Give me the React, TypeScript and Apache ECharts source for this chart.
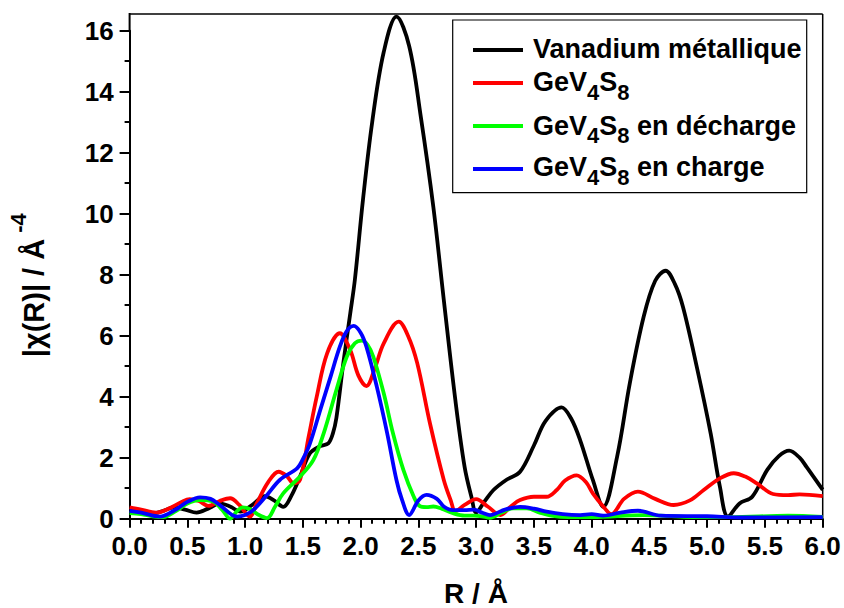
import React, { useEffect, useRef } from "react";
import * as echarts from "echarts";

const FONT = '"Liberation Sans", Arial, Helvetica, sans-serif';

const seriesNames = ["Vanadium métallique", "GeV4S8", "GeV4S8 en décharge", "GeV4S8 en charge"];
const seriesColors = ["#000000", "#ff0000", "#00ff00", "#0000ff"];

// [R (Å), |χ(R)| (Å^-4)]
const vanadium: number[][] = [
  [0, 0.31], [0.1, 0.25], [0.22, 0.18], [0.3, 0.27], [0.38, 0.37], [0.48, 0.3], [0.58, 0.2],
  [0.68, 0.33], [0.78, 0.5], [0.87, 0.4], [0.96, 0.23], [1.06, 0.45], [1.17, 0.74], [1.25, 0.6],
  [1.33, 0.39], [1.4, 0.75], [1.475, 1.38], [1.56, 2.14], [1.65, 2.38], [1.72, 2.47], [1.76, 2.8],
  [1.79, 3.3], [1.85, 5.1], [1.91, 6.73], [1.95, 7.83], [2.02, 10.45], [2.1, 13.0], [2.2, 15.3],
  [2.31, 16.46], [2.42, 15.5], [2.52, 13.2], [2.63, 10.2], [2.72, 7.17], [2.82, 3.89], [2.9, 1.7],
  [2.96, 0.7], [3.0, 0.2], [3.07, 0.55], [3.15, 0.94], [3.26, 1.27], [3.38, 1.54], [3.5, 2.4],
  [3.6, 3.2], [3.74, 3.65], [3.82, 3.3], [3.9, 2.58], [4.01, 1.27], [4.1, 0.39], [4.22, 2.03],
  [4.33, 4.44], [4.45, 6.62], [4.55, 7.8], [4.64, 8.13], [4.72, 7.7], [4.79, 6.95], [4.91, 4.98],
  [5.03, 2.8], [5.11, 1.05], [5.18, 0.07], [5.28, 0.5], [5.39, 0.72], [5.52, 1.6], [5.62, 2.05],
  [5.71, 2.23], [5.8, 2.0], [5.86, 1.7], [5.99, 1.0], [6.0, 0.95],
];

const gev4s8: number[][] = [
  [0, 0.37], [0.1, 0.3], [0.23, 0.2], [0.35, 0.35], [0.45, 0.55], [0.52, 0.64], [0.6, 0.58],
  [0.68, 0.42], [0.78, 0.58], [0.87, 0.67], [0.95, 0.45], [1.04, 0.07], [1.1, 0.5], [1.2, 1.2],
  [1.29, 1.54], [1.36, 1.4], [1.42, 1.16], [1.475, 1.27], [1.55, 2.69], [1.62, 4.0], [1.71, 5.42],
  [1.82, 6.08], [1.91, 5.53], [1.98, 4.7], [2.05, 4.35], [2.12, 4.9], [2.2, 5.75], [2.33, 6.46],
  [2.41, 6.0], [2.49, 5.1], [2.6, 3.13], [2.72, 1.27], [2.78, 0.6], [2.82, 0.25], [2.9, 0.45],
  [3.0, 0.64], [3.1, 0.4], [3.21, 0.12], [3.3, 0.4], [3.38, 0.61], [3.5, 0.72], [3.61, 0.72],
  [3.7, 0.95], [3.77, 1.25], [3.87, 1.42], [3.95, 1.2], [4.01, 0.83], [4.1, 0.4], [4.17, 0.15],
  [4.28, 0.65], [4.4, 0.89], [4.55, 0.65], [4.71, 0.45], [4.85, 0.6], [4.97, 0.94], [5.1, 1.3],
  [5.23, 1.49], [5.33, 1.38], [5.43, 1.16], [5.57, 0.81], [5.7, 0.77], [5.8, 0.8], [6.0, 0.74],
];

const decharge: number[][] = [
  [0, 0.18], [0.1, 0.15], [0.2, 0.08], [0.29, 0.05], [0.4, 0.25], [0.5, 0.5], [0.61, 0.61],
  [0.72, 0.57], [0.8, 0.3], [0.87, 0.0], [0.93, 0.25], [0.98, 0.37], [1.05, 0.3], [1.12, 0.12],
  [1.19, 0.02], [1.26, 0.4], [1.33, 0.83], [1.475, 1.38], [1.59, 1.92], [1.68, 2.8], [1.79, 4.22],
  [1.88, 5.31], [1.95, 5.75], [2.01, 5.84], [2.06, 5.7], [2.11, 5.31], [2.2, 4.11], [2.28, 2.8],
  [2.37, 1.6], [2.46, 0.72], [2.51, 0.42], [2.57, 0.38], [2.63, 0.4], [2.7, 0.33], [2.8, 0.18],
  [2.9, 0.1], [2.98, 0.1], [3.05, 0.08], [3.12, 0.03], [3.22, 0.2], [3.32, 0.34], [3.44, 0.34],
  [3.55, 0.2], [3.65, 0.1], [3.8, 0.05], [4.0, 0.05], [4.45, 0.12], [4.8, 0.06], [5.2, 0.05],
  [5.7, 0.1], [6.0, 0.06],
];

const charge: number[][] = [
  [0, 0.26], [0.1, 0.2], [0.26, 0.07], [0.4, 0.3], [0.5, 0.55], [0.61, 0.7], [0.7, 0.65],
  [0.78, 0.45], [0.93, 0.07], [1.0, 0.12], [1.07, 0.28], [1.19, 0.78], [1.3, 1.27], [1.45, 1.65],
  [1.5, 1.95], [1.56, 2.45], [1.65, 3.56], [1.74, 4.66], [1.82, 5.64], [1.88, 6.15], [1.94, 6.32],
  [2.0, 6.1], [2.05, 5.64], [2.14, 4.33], [2.23, 2.8], [2.31, 1.27], [2.36, 0.6], [2.42, 0.12],
  [2.5, 0.6], [2.57, 0.78], [2.66, 0.65], [2.72, 0.4], [2.8, 0.28], [2.9, 0.28], [2.98, 0.3],
  [3.05, 0.2], [3.12, 0.12], [3.25, 0.3], [3.38, 0.39], [3.5, 0.33], [3.61, 0.23], [3.75, 0.15],
  [3.9, 0.12], [4.0, 0.15], [4.1, 0.1], [4.25, 0.2], [4.4, 0.26], [4.6, 0.1], [5.0, 0.08],
  [5.3, 0.04], [6.0, 0.05],
];

const seriesData = [vanadium, gev4s8, decharge, charge];
const drawOrder = [3, 2, 1, 0];

// legend rows: pieces [text, isSubscript]
const legendRows: [string, boolean][][] = [
  [["Vanadium métallique", false]],
  [["GeV", false], ["4", true], ["S", false], ["8", true]],
  [["GeV", false], ["4", true], ["S", false], ["8", true], [" en décharge", false]],
  [["GeV", false], ["4", true], ["S", false], ["8", true], [" en charge", false]],
];

const GRID = { left: 129.6, right: 21.3, top: 30.7, bottom: 89.3 };

function App() {
  const ref = useRef<HTMLDivElement>(null);
  useEffect(() => {
    if (!ref.current) return;
    const chart = echarts.init(ref.current, null, { renderer: "svg" });

    const canvas = document.createElement("canvas");
    const ctx = canvas.getContext("2d")!;
    const measure = (t: string, s: number) => {
      ctx.font = `bold ${s}px ${FONT}`;
      return ctx.measureText(t).width;
    };

    const MAIN = 27;
    const SUB = 22;
    const rowBaselines = [58.3, 91.7, 135, 176.7];
    const lineYs = [50, 83, 126, 169];
    const legendEls: any[] = [
      {
        type: "rect",
        shape: { x: 452.7, y: 20, width: 354, height: 172.7 },
        style: { fill: "#fff", stroke: "#000", lineWidth: 1.2 },
        z: 10,
      },
    ];
    legendRows.forEach((row, i) => {
      legendEls.push({
        type: "line",
        shape: { x1: 473, y1: lineYs[i], x2: 523, y2: lineYs[i] },
        style: { stroke: seriesColors[i], lineWidth: 3.8 },
        z: 11,
      });
      let x = 533;
      row.forEach(([t, sub]) => {
        const s = sub ? SUB : MAIN;
        const base = sub ? rowBaselines[i] + 8.3 : rowBaselines[i];
        legendEls.push({
          type: "text",
          x,
          y: base - 0.3465 * s,
          z: 11,
          style: {
            text: t,
            fontSize: s,
            fontWeight: "bold",
            fontFamily: FONT,
            fill: "#000",
            align: "left",
            verticalAlign: "middle",
          },
        });
        x += measure(t, s);
      });
    });

    const x0 = GRID.left;
    const x1 = 844 - GRID.right;
    const yb = 608 - GRID.bottom;

    chart.setOption({
      animation: false,
      backgroundColor: "#fff",
      grid: { ...GRID, containLabel: false },
      xAxis: {
        type: "value",
        min: 0,
        max: 6,
        interval: 0.5,
        axisLine: { show: true, onZero: false, lineStyle: { color: "#000", width: 2 } },
        axisTick: { show: true, length: 9, lineStyle: { color: "#000", width: 2 } },
        minorTick: { show: true, splitNumber: 5, length: 5, lineStyle: { color: "#000", width: 2 } },
        splitLine: { show: false },
        axisLabel: {
          formatter: (v: number) => v.toFixed(1),
          fontSize: 26,
          fontWeight: "bold",
          fontFamily: FONT,
          color: "#000",
          margin: 14,
        },
      },
      yAxis: {
        type: "value",
        min: 0,
        max: 16,
        interval: 2,
        axisLine: { show: true, lineStyle: { color: "#000", width: 2 } },
        axisTick: { show: true, length: 10, lineStyle: { color: "#000", width: 2 } },
        minorTick: { show: true, splitNumber: 2, length: 5, lineStyle: { color: "#000", width: 2 } },
        splitLine: { show: false },
        axisLabel: {
          formatter: (v: number) => String(v),
          fontSize: 26,
          fontWeight: "bold",
          fontFamily: FONT,
          color: "#000",
          margin: 16,
        },
      },
      series: drawOrder.map((i) => ({
        name: seriesNames[i],
        type: "line",
        data: seriesData[i],
        showSymbol: false,
        smooth: 0.35,
        clip: false,
        lineStyle: { color: seriesColors[i], width: 3.8 },
        itemStyle: { color: seriesColors[i] },
        z: 2 + (3 - drawOrder.indexOf(i)),
      })),
      graphic: [
        {
          type: "line",
          shape: { x1: x0, y1: 14, x2: x1, y2: 14 },
          style: { stroke: "#000", lineWidth: 1.5 },
          z: 1,
        },
        {
          type: "line",
          shape: { x1: x1, y1: 14, x2: x1, y2: yb },
          style: { stroke: "#000", lineWidth: 1.5 },
          z: 1,
        },
        {
          type: "line",
          shape: { x1: x0, y1: 13, x2: x0, y2: GRID.top + 1 },
          style: { stroke: "#000", lineWidth: 2 },
          z: 1,
        },
        ...legendEls,
        {
          type: "text",
          x: 476,
          y: 593,
          style: {
            text: "R / Å",
            fontSize: 28,
            fontWeight: "bold",
            fontFamily: FONT,
            fill: "#000",
            align: "center",
            verticalAlign: "middle",
          },
        },
        {
          type: "text",
          x: 33.5,
          y: 298,
          rotation: Math.PI / 2,
          style: {
            text: "|χ(R)| / Å",
            fontSize: 29,
            fontWeight: "bold",
            fontFamily: FONT,
            fill: "#000",
            align: "center",
            verticalAlign: "middle",
          },
        },
        {
          type: "text",
          x: 18.5,
          y: 223,
          rotation: Math.PI / 2,
          style: {
            text: "-4",
            fontSize: 22,
            fontWeight: "bold",
            fontFamily: FONT,
            fill: "#000",
            align: "center",
            verticalAlign: "middle",
          },
        },
      ],
    });
    return () => chart.dispose();
  }, []);
  return (
    <div
      ref={ref}
      style={{ position: "fixed", left: 0, top: 0, width: 844, height: 608, background: "#fff" }}
    />
  );
}

export default App;
